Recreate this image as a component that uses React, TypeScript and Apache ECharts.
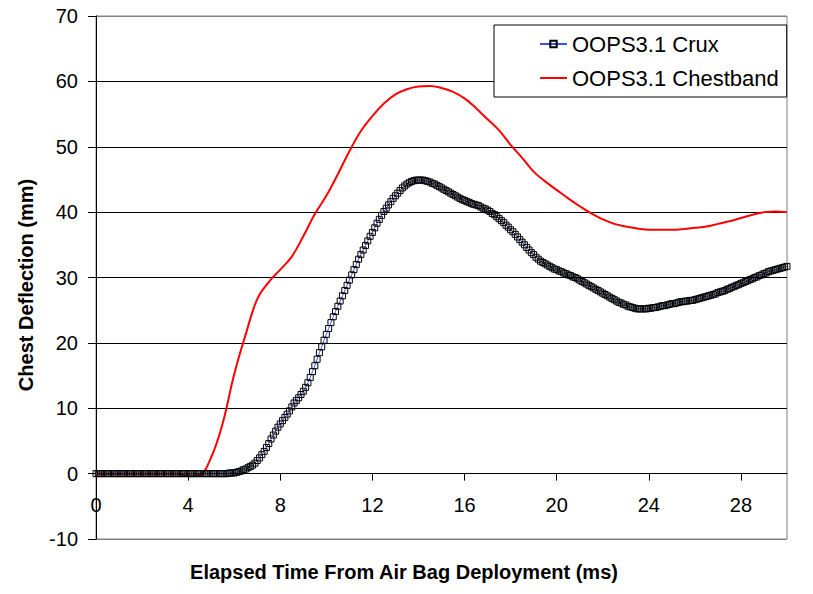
import React, { useEffect, useRef } from "react";
import * as echarts from "echarts";

// Crux: sampled every 0.1 ms from 0 to 30 ms (one row per ms)
const CRUX_STEP_MS = 0.1;
const cruxValues: number[] = [
  0, 0, 0, 0, 0, 0, 0, 0, 0, 0,
  0, 0, 0, 0, 0, 0, 0, 0, 0, 0,
  0, 0, 0, 0, 0, 0, 0, 0, 0, 0,
  0, 0, 0, 0, 0, 0, 0, 0, 0, 0,
  0, 0, 0, 0, 0, 0, 0, 0, 0, 0,
  0, 0, 0, 0, 0, 0, 0, 0, 0.1, 0.1,
  0.1, 0.2, 0.3, 0.4, 0.6, 0.7, 0.9, 1.1, 1.3, 1.6,
  2.0, 2.4, 2.9, 3.4, 4.0, 4.6, 5.3, 5.9, 6.5, 7.1,
  7.6, 8.1, 8.6, 9.1, 9.6, 10.2, 10.8, 11.2, 11.6, 12.1,
  12.6, 13.2, 13.9, 14.7, 15.6, 16.5, 17.5, 18.5, 19.4, 20.4,
  21.3, 22.2, 23.1, 24.0, 24.8, 25.6, 26.4, 27.2, 28.0, 28.8,
  29.6, 30.4, 31.2, 32.0, 32.8, 33.5, 34.2, 34.9, 35.6, 36.3,
  36.9, 37.6, 38.3, 38.9, 39.5, 40.1, 40.6, 41.1, 41.6, 42.1,
  42.5, 42.9, 43.3, 43.7, 44.0, 44.3, 44.5, 44.7, 44.8, 44.9,
  44.9, 44.9, 44.9, 44.8, 44.7, 44.6, 44.4, 44.3, 44.1, 43.9,
  43.7, 43.5, 43.3, 43.1, 42.9, 42.7, 42.5, 42.3, 42.1, 41.9,
  41.8, 41.6, 41.5, 41.3, 41.2, 41.1, 41.0, 40.8, 40.6, 40.5,
  40.3, 40.1, 39.8, 39.6, 39.3, 39.0, 38.7, 38.4, 38.0, 37.7,
  37.3, 37.0, 36.6, 36.2, 35.8, 35.4, 35.0, 34.6, 34.2, 33.8,
  33.5, 33.1, 32.8, 32.5, 32.3, 32.1, 31.9, 31.7, 31.5, 31.3,
  31.2, 31.0, 30.9, 30.7, 30.6, 30.4, 30.3, 30.1, 30.0, 29.8,
  29.6, 29.4, 29.2, 29.0, 28.8, 28.6, 28.4, 28.2, 28.0, 27.8,
  27.6, 27.4, 27.2, 27.0, 26.8, 26.6, 26.4, 26.2, 26.1, 25.9,
  25.8, 25.6, 25.5, 25.4, 25.3, 25.2, 25.2, 25.2, 25.2, 25.2,
  25.3, 25.3, 25.4, 25.4, 25.5, 25.6, 25.7, 25.7, 25.8, 25.9,
  26.0, 26.0, 26.1, 26.2, 26.3, 26.3, 26.4, 26.4, 26.5, 26.5,
  26.6, 26.7, 26.8, 26.9, 27.0, 27.1, 27.2, 27.3, 27.4, 27.5,
  27.7, 27.8, 27.9, 28.0, 28.2, 28.3, 28.5, 28.6, 28.8, 28.9,
  29.1, 29.2, 29.4, 29.5, 29.7, 29.8, 30.0, 30.1, 30.3, 30.4,
  30.6, 30.7, 30.9, 31.0, 31.1, 31.2, 31.3, 31.4, 31.5, 31.6,
  31.7,
];

// Chestband: sampled every 0.5 ms from 0 to 30 ms
const CHEST_STEP_MS = 0.5;
const chestValues: number[] = [
  0, 0, 0, 0, 0, 0, 0, 0,
  -0.4, -0.2, 2.5, 7.7, 15.2, 21.3, 26.7, 29.3,
  31.2, 33.2, 36.3, 39.7, 42.5, 45.8, 49.3, 52.4,
  54.7, 56.6, 58.0, 58.8, 59.2, 59.3, 59.0, 58.4,
  57.4, 55.9, 54.2, 52.5, 50.3, 48.3, 46.2, 44.7,
  43.4, 42.1, 40.9, 39.8, 38.9, 38.2, 37.8, 37.5,
  37.3, 37.3, 37.3, 37.4, 37.6, 37.8, 38.2, 38.6,
  39.1, 39.6, 40.0, 40.1, 40.0,
];

const seriesNames = ["OOPS3.1 Crux", "OOPS3.1 Chestband"];
const xTitle = "Elapsed Time From Air Bag Deployment (ms)";
const yTitle = "Chest Deflection (mm)";

const FONT = "'Liberation Sans', Arial, sans-serif";

const Y_MIN = -10;
const Y_MAX = 70;
const GRID_TOP = 16;
const GRID_BOTTOM = 55;
const CHART_H = 594;

export default function App() {
  const ref = useRef<HTMLDivElement>(null);

  useEffect(() => {
    if (!ref.current) return;
    const chart = echarts.init(ref.current, undefined, { renderer: "svg" });

    const cruxData = cruxValues.map((v, i) => [+(i * CRUX_STEP_MS).toFixed(2), v]);
    const chestData = chestValues.map((v, i) => [+(i * CHEST_STEP_MS).toFixed(2), v]);

    // lift the x axis from the grid bottom to the y = 0 line
    const plotH = CHART_H - GRID_TOP - GRID_BOTTOM;
    const zeroOffset = -plotH * ((0 - Y_MIN) / (Y_MAX - Y_MIN));

    chart.setOption({
      animation: false,
      backgroundColor: "#fff",
      textStyle: { fontFamily: FONT },
      grid: {
        left: 96,
        right: 26,
        top: GRID_TOP,
        bottom: GRID_BOTTOM,
        show: true,
        borderColor: "#808080",
        borderWidth: 1,
        containLabel: false,
        outerBoundsMode: "none",
      },
      legend: {
        orient: "vertical",
        left: 494,
        top: 25,
        padding: [8, 8, 8, 45],
        itemGap: 12,
        itemWidth: 27,
        itemHeight: 8,
        borderColor: "#000",
        borderWidth: 1,
        borderRadius: 0,
        backgroundColor: "#fff",
        data: [
          { name: seriesNames[0] },
          { name: seriesNames[1], itemStyle: { opacity: 0 } },
        ],
        textStyle: { fontSize: 22, color: "#000", fontFamily: FONT },
      },
      xAxis: {
        type: "value",
        min: 0,
        max: 30,
        interval: 4,
        position: "bottom",
        offset: zeroOffset,
        axisLine: { onZero: false, lineStyle: { color: "#000", width: 1 } },
        axisTick: { show: true, inside: false, length: 7, lineStyle: { color: "#000" } },
        axisLabel: {
          fontSize: 20,
          color: "#000",
          fontFamily: FONT,
          margin: 21,
          showMaxLabel: false,
        },
        splitLine: { show: false },
      },
      yAxis: {
        type: "value",
        min: Y_MIN,
        max: Y_MAX,
        interval: 10,
        axisLine: { show: true, onZero: false, lineStyle: { color: "#000", width: 1 } },
        axisTick: { show: true, inside: false, length: 8, lineStyle: { color: "#000" } },
        axisLabel: { fontSize: 20, color: "#000", fontFamily: FONT, margin: 18 },
        splitLine: {
          show: true,
          lineStyle: {
            color: ["#808080", "#000", "#000", "#000", "#000", "#000", "#000", "#000", "#808080"],
            width: 1,
          },
        },
      },
      graphic: [
        {
          type: "text",
          x: 404,
          y: 572,
          style: {
            text: xTitle,
            font: `bold 20px ${FONT}`,
            fill: "#000",
            align: "center",
            verticalAlign: "middle",
          },
        },
        {
          type: "text",
          x: 26,
          y: 285,
          rotation: Math.PI / 2,
          style: {
            text: yTitle,
            font: `bold 20px ${FONT}`,
            fill: "#000",
            align: "center",
            verticalAlign: "middle",
          },
        },
      ],
      series: [
        {
          name: seriesNames[1],
          type: "line",
          data: chestData,
          smooth: 0.4,
          showSymbol: false,
          symbol: "none",
          lineStyle: { color: "#ff0000", width: 2 },
          itemStyle: { color: "#ff0000" },
          z: 2,
        },
        {
          name: seriesNames[0],
          type: "line",
          data: cruxData,
          symbol: "rect",
          symbolSize: 6,
          showAllSymbol: true,
          lineStyle: { color: "#3355ff", width: 1 },
          itemStyle: { color: "rgba(255,255,255,0)", borderColor: "#000", borderWidth: 1 },
          z: 3,
        },
      ],
    });

    return () => chart.dispose();
  }, []);

  return (
    <div
      ref={ref}
      style={{ position: "absolute", left: 0, top: 0, width: 813, height: CHART_H }}
    />
  );
}
